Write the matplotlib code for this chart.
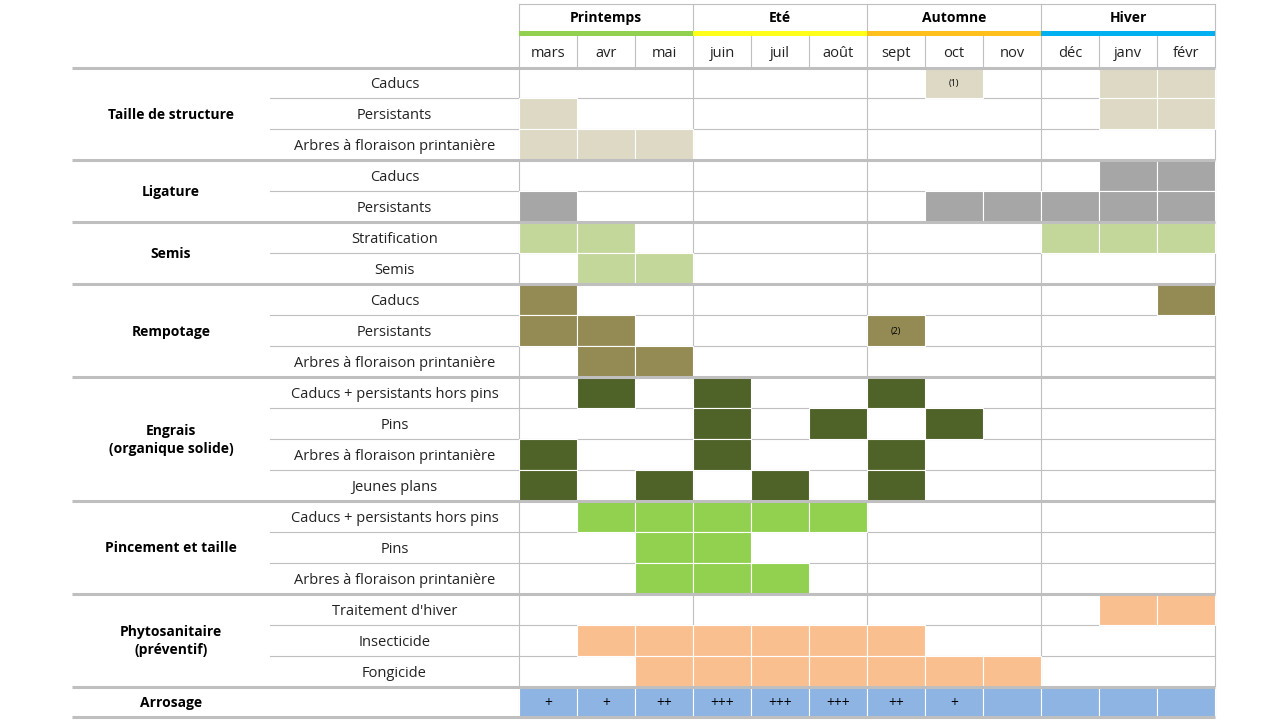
import matplotlib
matplotlib.use('Agg')
import matplotlib.pyplot as plt
from matplotlib.patches import Rectangle

plt.rcParams['font.family'] = ['Open Sans', 'DejaVu Sans']

# --- données ---
mois = ['mars', 'avr', 'mai', 'juin', 'juil', 'août', 'sept', 'oct', 'nov', 'déc', 'janv', 'févr']
saisons = ['Printemps', 'Eté', 'Automne', 'Hiver']
couleurs_saisons = ['#92D050', '#FFFF1A', '#FFC01E', '#00B0F0']

groupes = ['Taille de structure', 'Ligature', 'Semis', 'Rempotage',
           'Engrais\n(organique solide)', 'Pincement et taille',
           'Phytosanitaire\n(préventif)', 'Arrosage']

sous_lignes = [
    ['Caducs', 'Persistants', 'Arbres à floraison printanière'],
    ['Caducs', 'Persistants'],
    ['Stratification', 'Semis'],
    ['Caducs', 'Persistants', 'Arbres à floraison printanière'],
    ['Caducs + persistants hors pins', 'Pins', 'Arbres à floraison printanière', 'Jeunes plans'],
    ['Caducs + persistants hors pins', 'Pins', 'Arbres à floraison printanière'],
    ["Traitement d'hiver", 'Insecticide', 'Fongicide'],
    [''],
]

# index des mois (0 = mars ... 11 = févr)
mois_actifs = [
    [[7, 10, 11], [0, 10, 11], [0, 1, 2]],
    [[10, 11], [0, 7, 8, 9, 10, 11]],
    [[0, 1, 9, 10, 11], [1, 2]],
    [[0, 11], [0, 1, 6], [1, 2]],
    [[1, 3, 6], [3, 5, 7], [0, 3, 6], [0, 2, 4, 6]],
    [[1, 2, 3, 4, 5], [2, 3], [2, 3, 4]],
    [[10, 11], [1, 2, 3, 4, 5, 6], [2, 3, 4, 5, 6, 7, 8]],
    [list(range(12))],
]

couleurs_groupes = ['#DDD9C4', '#A6A6A6', '#C4D79B', '#948A54',
                    '#4F6228', '#92D050', '#FABF8F', '#8DB4E2']

# notes dans les cases : (groupe, ligne, mois, texte)
notes = [(0, 0, 7, '(1)'), (3, 1, 6, '(2)')]
arrosage = ['+', '+', '++', '+++', '+++', '+++', '++', '+', '', '', '', '']

# --- mise en page (pixels) ---
W, H = 1287, 724
x_gauche, x_sous, x0 = 72, 270, 519
cw = 58
y_haut, y_bande, y_mois, y0 = 3.5, 31, 36, 67.5
rh = 30.95
dy = 2  # décalage vertical du texte
gris = '#BFBFBF'
thin = 0.8
thick = 2.2

fig = plt.figure(figsize=(W / 100, H / 100), dpi=100)
ax = fig.add_axes([0, 0, 1, 1])
ax.set_xlim(0, W)
ax.set_ylim(H, 0)
ax.axis('off')

x_fin = x0 + 12 * cw

# en-tête
ax.plot([x0, x_fin], [y_haut, y_haut], color=gris, lw=thin)
for s, nom in enumerate(saisons):
    xs = x0 + 3 * s * cw
    ax.add_patch(Rectangle((xs, y_bande), 3 * cw, y_mois - y_bande,
                           facecolor=couleurs_saisons[s], edgecolor='none', zorder=2))
    ax.text(xs + 1.5 * cw, (y_haut + y_bande) / 2 + 0.5, nom, ha='center', va='center',
            fontsize=10, fontweight='bold', color='#000000')
for k in range(13):
    xk = x0 + k * cw
    if k % 3 == 0:
        ax.plot([xk, xk], [y_haut, y0], color=gris, lw=thin, zorder=1)
    else:
        ax.plot([xk, xk], [y_mois, y0], color=gris, lw=thin, zorder=1)
for k, m in enumerate(mois):
    ax.text(x0 + (k + 0.5) * cw, (y_mois + y0) / 2 + dy, m, ha='center', va='center',
            fontsize=10.5, color='#222222')

# corps du tableau
n_lignes = sum(len(l) for l in sous_lignes)
y_bas = y0 + n_lignes * rh
for k in range(0, 13, 3):
    xk = x0 + k * cw
    ax.plot([xk, xk], [y0, y_bas], color=gris, lw=thin, zorder=1)

ligne = 0
limites = [y0]
for g, nom in enumerate(groupes):
    n = len(sous_lignes[g])
    yg = y0 + ligne * rh
    ax.text((x_gauche + x_sous) / 2, yg + n * rh / 2 + 1, nom, ha='center', va='center',
            fontsize=10, fontweight='bold', linespacing=1.35, color='#000000')
    for j, lab in enumerate(sous_lignes[g]):
        yj = yg + j * rh
        if j > 0:
            ax.plot([x_sous, x_fin], [yj, yj], color=gris, lw=thin, zorder=1)
        ax.text((x_sous + x0) / 2, yj + rh / 2 + dy, lab, ha='center', va='center',
                fontsize=10.5, color='#222222')
        for k in mois_actifs[g][j]:
            ax.add_patch(Rectangle((x0 + k * cw, yj), cw, rh,
                                   facecolor=couleurs_groupes[g], edgecolor='white',
                                   lw=0.8, zorder=2))
    ligne += n
    limites.append(y0 + ligne * rh)

for yl in limites:
    ax.plot([x_gauche, x_fin], [yl, yl], color=gris, lw=thick, zorder=4,
            solid_capstyle='butt')

# notes
debuts = [sum(len(l) for l in sous_lignes[:g]) for g in range(len(groupes))]
for g, j, k, txt in notes:
    yj = y0 + (debuts[g] + j) * rh
    ax.text(x0 + (k + 0.5) * cw, yj + rh / 2 + 1, txt, ha='center', va='center',
            fontsize=6.5, color='#000000', zorder=5)

y_arr = y0 + debuts[-1] * rh
for k, txt in enumerate(arrosage):
    if txt:
        ax.text(x0 + (k + 0.5) * cw, y_arr + rh / 2 + 1.5, txt, ha='center', va='center',
                fontsize=10, color='#000000', zorder=5)

fig.savefig('out.png', dpi=100)
